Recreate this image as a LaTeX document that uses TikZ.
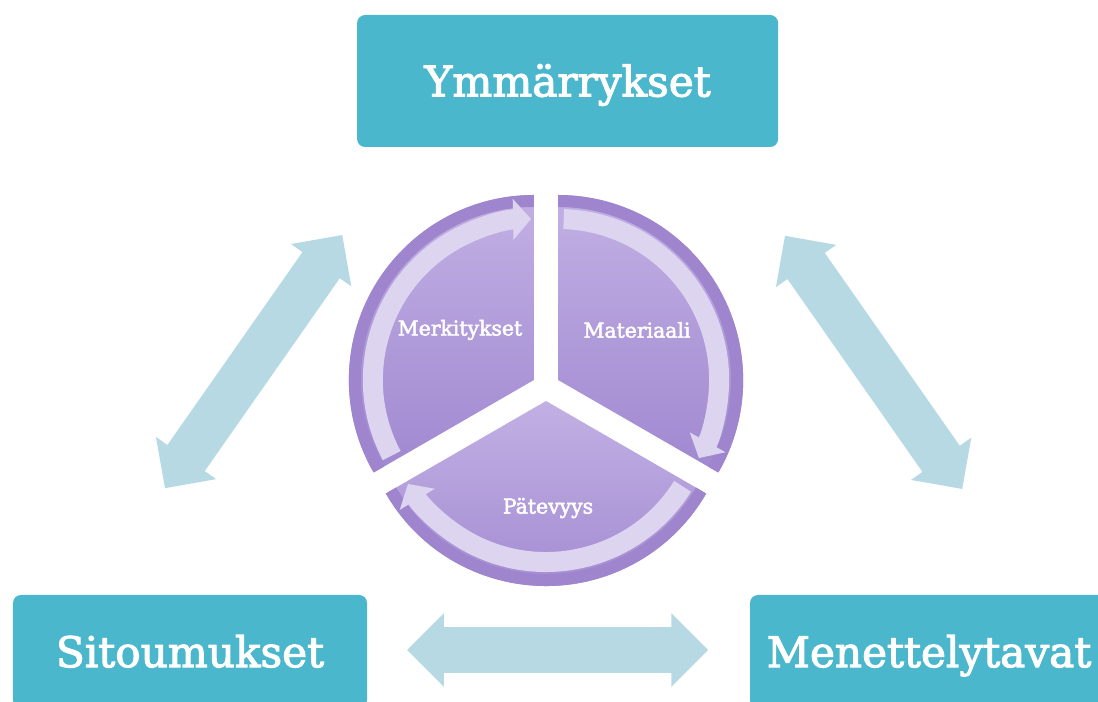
\documentclass[tikz,border=0pt]{standalone}
\usepackage{fontspec}
\setmainfont{DejaVu Serif}
\newfontface\heavyserif{DejaVu Serif}[FakeBold=2.5]
\usetikzlibrary{shapes.arrows,arrows.meta}
\definecolor{boxteal}{HTML}{4BB7CC}
\definecolor{arrowblue}{HTML}{B6D9E4}
\definecolor{segtop}{HTML}{C2B0E4}
\definecolor{segbottom}{HTML}{A088D0}
\definecolor{segrim}{HTML}{9E85CD}
\definecolor{bandlilac}{HTML}{DDD4F0}

\begin{document}
\begin{tikzpicture}[
  box/.style={fill=boxteal, rounded corners=0.2cm, text=white, font=\heavyserif\fontsize{30}{36}\selectfont, text height=26pt, text depth=4pt},
  link/.style={double arrow, fill=arrowblue, inner xsep=0pt, inner ysep=0.5625cm, double arrow head extend=0.35cm},
  seglabel/.style={text=white, font=\heavyserif\fontsize{14.5}{17}\selectfont},
  band/.style={bandlilac, line width=0.5cm, -{Triangle[width=1cm,length=0.45cm]}}]
  \useasboundingbox (0,0) rectangle (27.45,17.55);
  % boxes
  \node[box, minimum width=10.525cm, minimum height=3.3cm] (ymm) at (14.19,15.525) {Ymmärrykset};
  \node[box, minimum width=8.85cm, minimum height=2.83cm] (sit) at (4.75,1.26) {Sitoumukset};
  \node[box, minimum width=8.95cm, minimum height=2.83cm] (men) at (23.225,1.26) {Menettelytavat};
  % arrows between the boxes
  \node[link, minimum height=7.725cm, rotate=55] (arrL) at (6.34,8.51) {};
  \node[link, minimum height=7.725cm, rotate=-55] (arrR) at (21.84,8.49) {};
  \node[link, minimum height=7.525cm] (arrB) at (13.94,1.3) {};
  % wheel
  \begin{scope}[shift={(13.65,7.875)}]
    \foreach \a in {150,30,270} {
      \begin{scope}[shift={(\a:0.35)}]
        \shade[top color=segtop, bottom color=segbottom] (0,0) -- (\a-60:4.625) arc[start angle=\a-60, end angle=\a+60, radius=4.625] -- cycle;
        \draw[segrim, line width=0.3cm] (\a-60:4.475) arc[start angle=\a-60, end angle=\a+60, radius=4.475];
        \draw[band] (\a+58:4.025) arc[start angle=\a+58, end angle=\a-59, radius=4.025];
      \end{scope}
    }
  \end{scope}
  \node[seglabel] (merk) at (11.5,9.3) {Merkitykset};
  \node[seglabel] (mat) at (15.925,9.3) {Materiaali};
  \node[seglabel] (pat) at (13.7,4.85) {Pätevyys};
\end{tikzpicture}
\end{document}
